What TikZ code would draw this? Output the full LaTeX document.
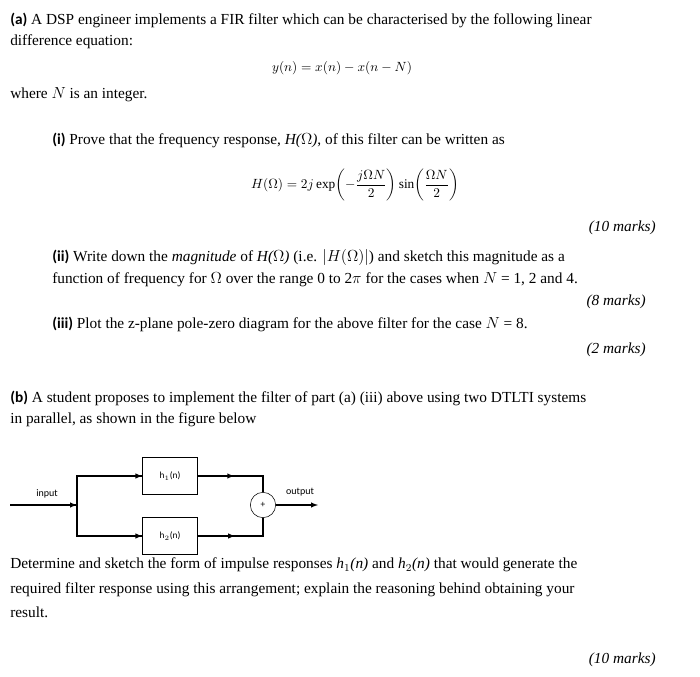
\documentclass[tikz,border=0pt]{standalone}
\usepackage{amsmath}
\usepackage{fontspec}
\setmainfont{Liberation Serif}
\newfontfamily\labfont{Carlito}
\usetikzlibrary{positioning,decorations.markings}
\tikzset{
  txt/.style={anchor=west,inner sep=0pt,font=\fontsize{11.5}{14}\selectfont},
  mrk/.style={anchor=east,inner sep=0pt,font=\fontsize{11.5}{14}\selectfont\itshape},
  blk/.style={draw,minimum width=41pt,minimum height=28pt,font=\labfont\fontsize{7}{8}\selectfont},
  sig/.style={font=\labfont\fontsize{7.5}{9}\selectfont},
  midarr/.style={postaction={decorate},decoration={markings,mark=at position #1 with {\arrow{latex}}}}
}
\newcommand{\qpart}[1]{{\labfont\bfseries #1}}
\begin{document}
\begin{tikzpicture}[x=0.75pt,y=-0.75pt]
\useasboundingbox (0,0) rectangle (700,677);
% part (a)
\node[txt] (a1) at (10,20) {\qpart{(a)} A DSP engineer implements a FIR filter which can be characterised by the following linear};
\node[txt] (a2) at (10,42) {difference equation:};
\node[inner sep=0pt] (eq1) at (342,68) {$y(n)=x(n)-x(n-N)$};
\node[txt] (a3) at (10,95) {where $N$ is an integer.};
\node[txt] (i1) at (52,140) {\qpart{(i)} Prove that the frequency response, \textit{H($\Omega$)}, of this filter can be written as};
\node[inner sep=0pt] (eq2) at (355,185) {$H(\Omega)=2j\exp\!\left(-\dfrac{j\Omega N}{2}\right)\sin\!\left(\dfrac{\Omega N}{2}\right)$};
\node[mrk] (m1) at (656,228) {(10 marks)};
\node[txt] (ii1) at (52,258) {\qpart{(ii)} Write down the \textit{magnitude} of \textit{H($\Omega$)} (i.e. $\lvert H(\Omega)\rvert$) and sketch this magnitude as a};
\node[txt] (ii2) at (52,280) {function of frequency for $\Omega$ over the range 0 to 2$\pi$ for the cases when $N$ = 1, 2 and 4.};
\node[mrk] (m2) at (646,302) {(8 marks)};
\node[txt] (iii1) at (52,324) {\qpart{(iii)} Plot the z-plane pole-zero diagram for the above filter for the case $N$ = 8.};
\node[mrk] (m3) at (646,350) {(2 marks)};
% part (b)
\node[txt] (b1) at (10,398) {\qpart{(b)} A student proposes to implement the filter of part (a) (iii) above using two DTLTI systems};
\node[txt] (b2) at (10,420) {in parallel, as shown in the figure below};
% block diagram
\coordinate (in) at (10,505);
\coordinate (split) at (77,505);
\node[blk] (h1) at (170,476) {h$_1$(n)};
\node[blk] (h2) at (170,536) {h$_2$(n)};
\node[draw,circle,minimum size=19pt,inner sep=0pt,font=\labfont\fontsize{7}{8}\selectfont] (sum) at (263,505) {+};
\coordinate (out) at (318,505);
\draw[thick,midarr=1] (in) -- (split);
\draw[thick,midarr=1] (split) |- (h1.west);
\draw[thick,midarr=1] (split) |- (h2.west);
\draw[thick,midarr=0.45] (h1.east) -| (sum.north);
\draw[thick,midarr=0.45] (h2.east) -| (sum.south);
\draw[thick,-latex] (sum.east) -- (out);
\node[sig] (lin) at (47,494) {input};
\node[sig] (lout) at (300,492) {output};
% question
\node[txt] (c1) at (10,565) {Determine and sketch the form of impulse responses \textit{h$_1$(n)} and \textit{h$_2$(n)} that would generate the};
\node[txt] (c2) at (10,590) {required filter response using this arrangement; explain the reasoning behind obtaining your};
\node[txt] (c3) at (10,612) {result.};
\node[mrk] (m4) at (656,660) {(10 marks)};
\end{tikzpicture}
\end{document}
